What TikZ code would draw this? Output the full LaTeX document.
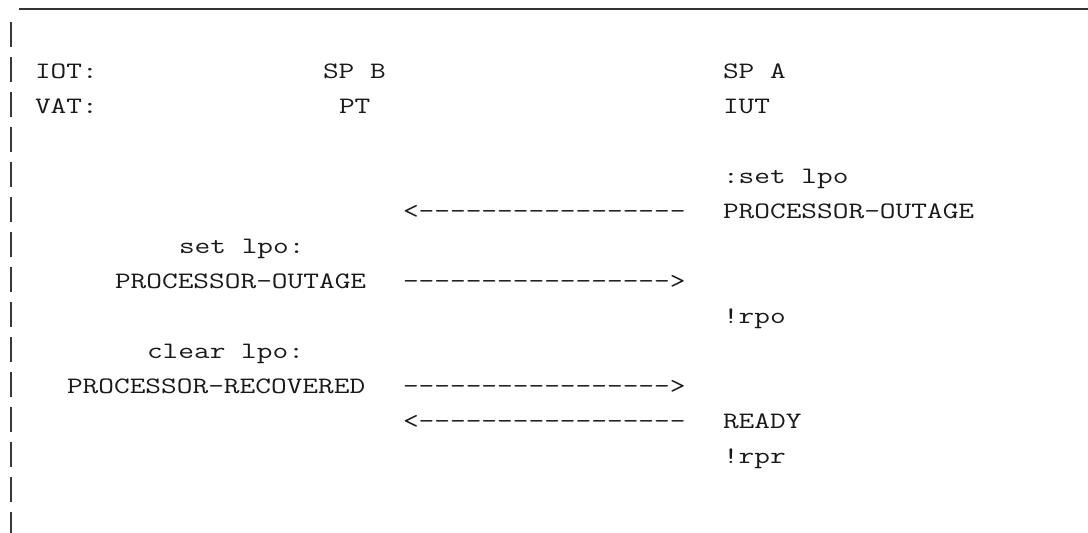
\documentclass[tikz,border=0pt]{standalone}
\usepackage{fontspec}
\newfontfamily\monofont[FakeStretch=1.297]{Latin Modern Mono}
\begin{document}
\begin{tikzpicture}[x=1pt,y=-1pt,
  txt/.style={anchor=base west,inner sep=0pt,outer sep=0pt,
    font=\monofont\fontsize{23.5}{28}\selectfont,text=black!90},
  rule/.style={line width=2pt,draw=black!80}]
\useasboundingbox[fill=white] (0,0) rectangle (1088,533);
% frame lines
\coordinate (tl) at (19,8.5);
\coordinate (tr) at (1088,8.5);
\draw[rule] (tl) -- (tr);
\coordinate (lt) at (11,22);
\coordinate (lb) at (11,533);
\draw[rule,line width=1.9pt,draw=black!78,dash pattern=on 25pt off 10pt] (lt) -- (lb);
% row 2
\node[txt] (iot) at (35,78) {IOT:};
\node[txt] (spb) at (323,78) {SP B};
\node[txt] (spa) at (723,78) {SP A};
% row 3
\node[txt] (vat) at (35,113) {VAT:};
\node[txt] (pt) at (339,113) {PT};
\node[txt] (iut) at (723,113) {IUT};
% row 5
\node[txt] (setA) at (723,183) {:set lpo};
% row 6
\node[txt] (arr1) at (403,218) {<-----------------};
\node[txt] (poA) at (723,218) {PROCESSOR-OUTAGE};
% row 7
\node[txt] (setB) at (179,253) {set lpo:};
% row 8
\node[txt] (poB) at (115,288) {PROCESSOR-OUTAGE};
\node[txt] (arr2) at (403,288) {----------------->};
% row 9
\node[txt] (rpo) at (723,323) {!rpo};
% row 10
\node[txt] (clr) at (147,358) {clear lpo:};
% row 11
\node[txt] (prB) at (67,393) {PROCESSOR-RECOVERED};
\node[txt] (arr3) at (403,393) {----------------->};
% row 12
\node[txt] (arr4) at (403,428) {<-----------------};
\node[txt] (ready) at (723,428) {READY};
% row 13
\node[txt] (rpr) at (723,463) {!rpr};
\end{tikzpicture}
\end{document}
